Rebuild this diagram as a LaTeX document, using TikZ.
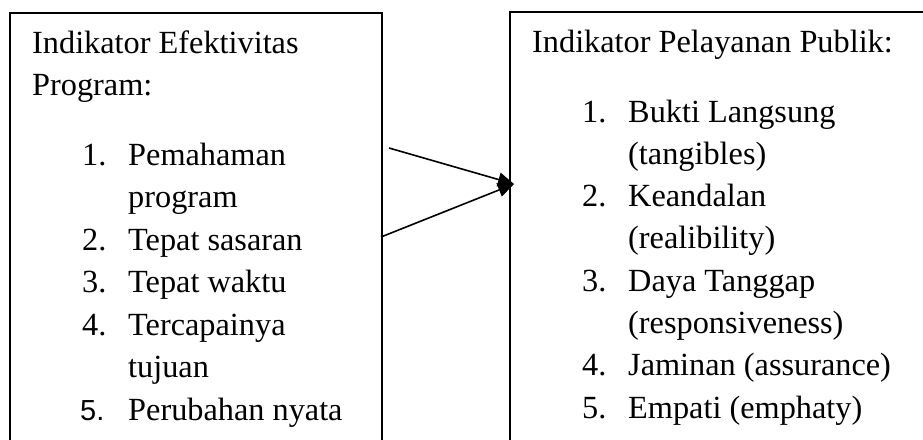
\documentclass[tikz,border=0pt]{standalone}
\usepackage{fontspec}
\setmainfont{Liberation Serif}
\newfontfamily\arialf{Liberation Sans}
\usetikzlibrary{arrows.meta}
\begin{document}
\begin{tikzpicture}[x=1pt,y=-1pt,
  txt/.style={anchor=base west, inner sep=0pt, font=\fontsize{32.3}{42}\selectfont},
  frame/.style={line width=1.6pt},
  conn/.style={line width=1.6pt, -{Triangle[length=16pt,width=14pt]}}]
\useasboundingbox (0,0) rectangle (923,439);
\clip (0,0) rectangle (923,439);
% frames (open at the bottom / right, cut by the page)
\draw[frame] (10,460) -- (10,13) -- (382,13) -- (382,460);
\draw[frame] (510,460) -- (510,12) -- (940,12);
% left box text
\node[txt] (lh1) at (32,53) {Indikator Efektivitas};
\node[txt] (lh2) at (32,95.5) {Program:};
\node[txt] (ln1) at (82,165) {1.};
\node[txt] (lt1) at (128,165) {Pemahaman};
\node[txt] (lt1b) at (128,207.5) {program};
\node[txt] (ln2) at (82,250) {2.};
\node[txt] (lt2) at (128,250) {Tepat sasaran};
\node[txt] (ln3) at (82,292.5) {3.};
\node[txt] (lt3) at (128,292.5) {Tepat waktu};
\node[txt] (ln4) at (82,335) {4.};
\node[txt] (lt4) at (128,335) {Tercapainya};
\node[txt] (lt4b) at (128,377.5) {tujuan};
\node[txt, font=\arialf\fontsize{29}{42}\selectfont] (ln5) at (80,420) {5.};
\node[txt] (lt5) at (128,420) {Perubahan nyata};
% right box text
\node[txt] (rh1) at (532,52) {Indikator Pelayanan Publik:};
\node[txt] (rn1) at (582,122) {1.};
\node[txt] (rt1) at (628,122) {Bukti Langsung};
\node[txt] (rt1b) at (628,164.3) {(tangibles)};
\node[txt] (rn2) at (582,206.6) {2.};
\node[txt] (rt2) at (628,206.6) {Keandalan};
\node[txt] (rt2b) at (628,248.9) {(realibility)};
\node[txt] (rn3) at (582,291.2) {3.};
\node[txt] (rt3) at (628,291.2) {Daya Tanggap};
\node[txt] (rt3b) at (628,333.5) {(responsiveness)};
\node[txt] (rn4) at (582,375.8) {4.};
\node[txt] (rt4) at (628,375.8) {Jaminan (assurance)};
\node[txt] (rn5) at (582,418) {5.};
\node[txt] (rt5) at (628,418) {Empati (emphaty)};
% connectors
\coordinate (a1) at (389,148);
\coordinate (a2) at (381,237);
\coordinate (tip) at (514,184);
\draw[conn] (a1) -- (tip);
\draw[conn] (a2) -- (tip);
\end{tikzpicture}
\end{document}
